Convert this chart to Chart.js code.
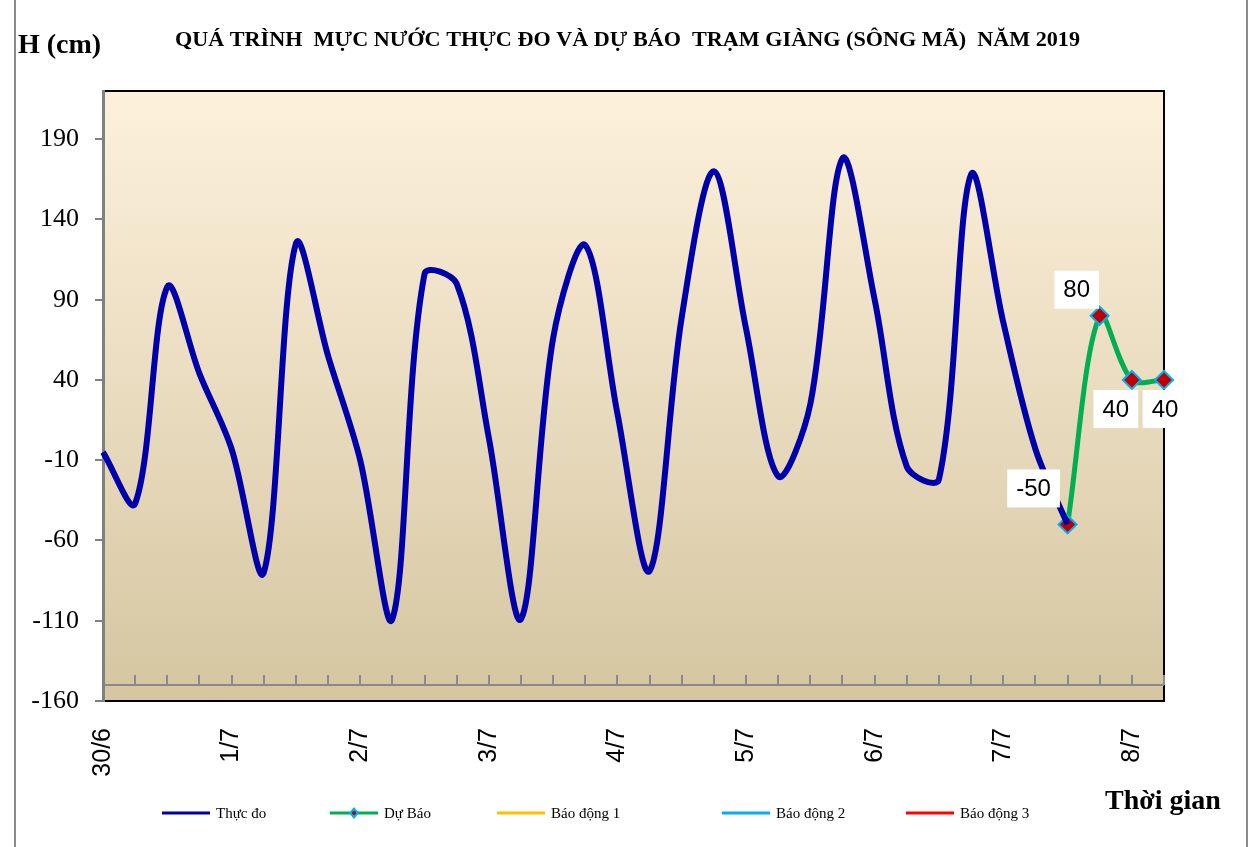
<!DOCTYPE html>
<html>
<head>
<meta charset="utf-8">
<script src="https://cdn.jsdelivr.net/npm/chart.js@4.4.1/dist/chart.umd.min.js"></script>
<style>
html, body { margin: 0; padding: 0; background: #fff; }
</style>
</head>
<body>
<canvas id="myChart" width="1251" height="847"></canvas>
<script>
const ctx = document.getElementById('myChart');

// moc thoi gian 6 gio / lan, nhan theo ngay
const ngay = ['30/6', '1/7', '2/7', '3/7', '4/7', '5/7', '6/7', '7/7', '8/7'];
const soMoc = 34;

// muc nuoc thuc do (cm), tu 30/6 den 7/7 18h
const thucDo = [-5, -37, 98, 44, -3, -80, 125, 55, -10, -109,
    106, 100, 4, -109, 66, 124, 19, -79, 79, 170,
    72, -20, 25, 178, 90, -14, -22, 168, 76, -3, -50];

// du bao (bat dau tai moc cuoi cua thuc do)
const duBao = [-50, 80, 40, 40];
const batDauDuBao = 30;

const yTicks = [-160, -110, -60, -10, 40, 90, 140, 190];

const labels = ngay.flatMap(d => [d, '', '', '']).slice(0, soMoc);
const dataThucDo = thucDo.concat(Array(soMoc - thucDo.length).fill(null));
const dataDuBao = Array(batDauDuBao).fill(null).concat(duBao);
const rong = Array(soMoc).fill(null);

const khungVe = {
    id: 'khungVe',
    beforeDraw(chart) {
        const c = chart.ctx, a = chart.chartArea;
        const x = chart.scales.x, y = chart.scales.y;
        c.save();
        c.fillStyle = '#fff';
        c.fillRect(0, 0, chart.width, chart.height);
        // khung ngoai
        c.strokeStyle = '#8c8c8c';
        c.lineWidth = 2;
        c.beginPath();
        c.moveTo(15, 0); c.lineTo(15, chart.height);
        c.moveTo(1247, 0); c.lineTo(1247, chart.height);
        c.stroke();
        // nen vung ve
        const g = c.createLinearGradient(0, a.top, 0, a.bottom);
        g.addColorStop(0, '#FDF1DC');
        g.addColorStop(1, '#D5C6A1');
        c.fillStyle = g;
        c.fillRect(a.left, a.top, a.right - a.left, a.bottom - a.top);
        c.strokeStyle = '#000';
        c.lineWidth = 2;
        c.beginPath();
        c.moveTo(a.left, a.top); c.lineTo(a.right, a.top);
        c.lineTo(a.right, a.bottom); c.lineTo(a.left, a.bottom);
        c.stroke();
        // truc thoi gian tai -150
        const y0 = Math.round(y.getPixelForValue(-150));
        c.strokeStyle = '#8a8a8a';
        c.lineWidth = 2;
        c.beginPath();
        c.moveTo(a.left, y0); c.lineTo(a.right, y0);
        for (let i = 0; i < labels.length; i++) {
            const px = Math.round(x.getPixelForValue(i));
            c.moveTo(px, y0); c.lineTo(px, y0 - 10);
        }
        c.stroke();
        c.restore();
    },
    afterDatasetsDraw(chart) {
        // nhan du bao
        const c = chart.ctx;
        const meta = chart.getDatasetMeta(1);
        const lech = [[-34, -36], [-23, -26], [-16, 29], [1, 29]];
        c.save();
        c.font = '24px "Liberation Sans", Arial, sans-serif';
        c.textAlign = 'center';
        c.textBaseline = 'middle';
        let k = 0;
        meta.data.forEach((p, i) => {
            const v = chart.data.datasets[1].data[i];
            if (v === null) return;
            const [dx, dy] = lech[k++];
            const t = String(v);
            const w = c.measureText(t).width + 18;
            const h = 38;
            c.fillStyle = '#fff';
            c.fillRect(p.x + dx - w / 2, p.y + dy - h / 2, w, h);
            c.fillStyle = '#000';
            c.fillText(t, p.x + dx, p.y + dy + 1);
        });
        c.restore();
    },
    afterDraw(chart) {
        const c = chart.ctx;
        c.save();
        c.fillStyle = '#000';
        c.textBaseline = 'alphabetic';
        c.font = 'bold 28px "Liberation Serif", "Times New Roman", serif';
        c.fillText('H (cm)', 18, 53);
        c.fillText('Thời gian', 1105, 809);

        // tieu de, ep vua be rong
        const tieuDe = 'QUÁ TRÌNH  MỰC NƯỚC THỰC ĐO VÀ DỰ BÁO  TRẠM GIÀNG (SÔNG MÃ)  NĂM 2019';
        c.font = 'bold 22px "Liberation Serif", "Times New Roman", serif';
        const w = c.measureText(tieuDe).width;
        c.save();
        c.translate(175, 46);
        c.scale(905 / w, 1);
        c.fillText(tieuDe, 0, 0);
        c.restore();

        // chu giai
        const viTri = [162, 330, 497, 722, 906];
        const ly = 813;
        c.font = '15px "Liberation Serif", "Times New Roman", serif';
        c.textBaseline = 'middle';
        chart.data.datasets.forEach((ds, i) => {
            const x0 = viTri[i];
            c.strokeStyle = ds.borderColor;
            c.lineWidth = 3;
            c.beginPath();
            c.moveTo(x0, ly); c.lineTo(x0 + 48, ly);
            c.stroke();
            if (ds.pointRadius > 0) {
                const cx = x0 + 24;
                c.fillStyle = '#00B0F0';
                c.beginPath();
                c.moveTo(cx, ly - 6); c.lineTo(cx + 5, ly); c.lineTo(cx, ly + 6); c.lineTo(cx - 5, ly);
                c.closePath(); c.fill();
                c.fillStyle = '#C00000';
                c.beginPath();
                c.arc(cx, ly, 2, 0, Math.PI * 2); c.fill();
            }
            c.fillStyle = '#000';
            c.fillText(ds.label, x0 + 54, ly + 1);
        });
        c.restore();
    }
};

new Chart(ctx, {
    type: 'line',
    data: {
        labels: labels,
        datasets: [{
            label: 'Thực đo',
            data: dataThucDo,
            borderColor: '#0000AA',
            borderWidth: 6,
            pointRadius: 0,
            tension: 0.33,
            fill: false
        }, {
            label: 'Dự Báo',
            data: dataDuBao,
            borderColor: '#00B050',
            borderWidth: 5,
            pointStyle: 'rectRot',
            pointRadius: 9,
            pointBackgroundColor: '#C00000',
            pointBorderColor: '#00B0F0',
            pointBorderWidth: 2,
            tension: 0.33,
            fill: false
        }, {
            label: 'Báo động 1',
            data: rong,
            borderColor: '#FFC000',
            borderWidth: 3,
            pointRadius: 0
        }, {
            label: 'Báo động 2',
            data: rong,
            borderColor: '#00B0F0',
            borderWidth: 3,
            pointRadius: 0
        }, {
            label: 'Báo động 3',
            data: rong,
            borderColor: '#FF0000',
            borderWidth: 3,
            pointRadius: 0
        }]
    },
    options: {
        responsive: false,
        animation: false,
        devicePixelRatio: 1,
        layout: {
            padding: { left: 15, right: 87, top: 91, bottom: 66 }
        },
        plugins: {
            legend: { display: false },
            tooltip: { enabled: false }
        },
        scales: {
            x: {
                type: 'category',
                offset: false,
                grid: { display: false },
                border: { display: false },
                ticks: {
                    autoSkip: false,
                    maxRotation: 90,
                    minRotation: 90,
                    padding: 19,
                    color: '#000',
                    font: { family: '"Liberation Sans", Arial, sans-serif', size: 25 }
                },
                afterFit: s => { s.height = 80; }
            },
            y: {
                min: -160,
                max: 220,
                afterBuildTicks: s => { s.ticks = yTicks.map(v => ({ value: v })); },
                grid: {
                    drawOnChartArea: false,
                    drawTicks: true,
                    tickLength: 8,
                    color: '#808080',
                    lineWidth: 2
                },
                border: { display: true, color: '#808080', width: 3 },
                ticks: {
                    padding: 16,
                    color: '#000',
                    font: { family: '"Liberation Serif", "Times New Roman", serif', size: 26 }
                },
                afterFit: s => { s.width = 88; }
            }
        }
    },
    plugins: [khungVe]
});
</script>
</body>
</html>
